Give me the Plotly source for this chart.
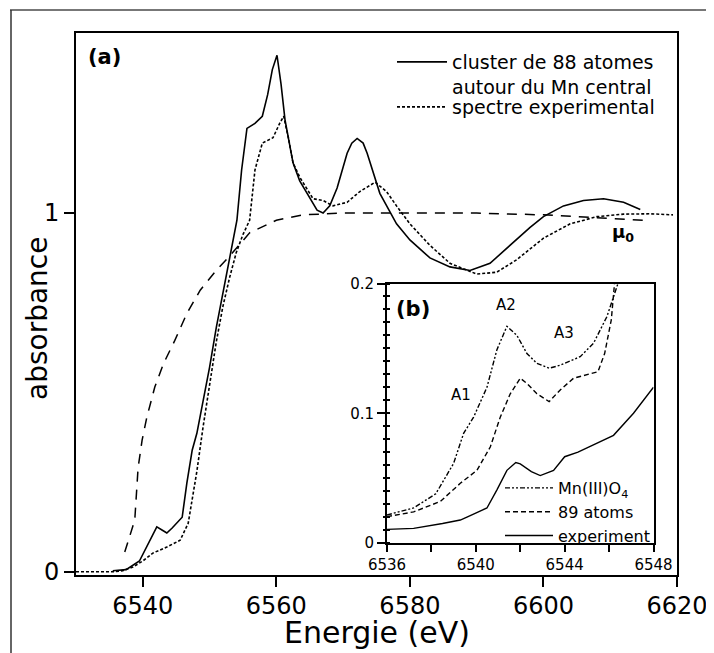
import plotly.graph_objects as go

# the page body has an 8px margin, so the figure starts 8px in and is cut by the 714x653 window
OFF = 8
W, H = 714 - OFF, 653 - OFF

# ---------------- main panel data (a) ----------------
cluster_E = [6535.5, 6537.5, 6539.5, 6540.6, 6541.5, 6542.1, 6543.0, 6543.6, 6544.4, 6545.1, 6545.9,
             6546.6, 6547.4, 6548.1, 6549.0, 6550.0, 6551.0, 6552.0, 6553.0, 6554.1, 6554.8, 6555.6,
             6556.8, 6557.9, 6558.7, 6559.4, 6560.1, 6560.7, 6561.3, 6562.5, 6563.5, 6564.6, 6566.1,
             6567.0, 6568.0, 6569.1, 6570.6, 6571.3, 6572.1, 6573.0, 6573.6, 6575.5, 6578.0, 6580.0,
             6583.0, 6586.0, 6589.0, 6592.0, 6595.0, 6598.0, 6600.0, 6603.0, 6606.0, 6609.0, 6612.0,
             6614.5]
cluster_A = [0.003, 0.006, 0.03, 0.069, 0.10, 0.125, 0.115, 0.108, 0.122, 0.135, 0.152,
             0.247, 0.339, 0.386, 0.47, 0.57, 0.68, 0.78, 0.88, 0.98, 1.12, 1.236,
             1.25, 1.27, 1.33, 1.40, 1.44, 1.36, 1.26, 1.14, 1.09, 1.055, 1.008,
             1.0, 1.02, 1.07, 1.167, 1.195, 1.208, 1.195, 1.167, 1.055, 0.97, 0.925,
             0.875, 0.85, 0.84, 0.86, 0.91, 0.96, 0.99, 1.02, 1.035, 1.04, 1.03,
             1.01]

exp_E = [6530.0, 6535.5, 6537.0, 6538.5, 6540.0, 6541.5, 6543.6, 6545.6, 6546.8, 6548.1, 6549.0,
         6550.0, 6551.0, 6552.0, 6553.0, 6554.0, 6555.0, 6556.0, 6556.8, 6557.9, 6559.5, 6560.5,
         6561.1, 6561.8, 6562.5, 6563.5, 6565.5, 6567.0, 6568.5, 6570.6, 6572.5, 6574.8, 6576.5,
         6578.0, 6580.0, 6583.0, 6586.0, 6590.0, 6593.0, 6596.0, 6600.0, 6604.0, 6608.0, 6612.0,
         6616.0, 6619.4]
exp_A = [0.0, 0.0, 0.003, 0.013, 0.03, 0.052, 0.069, 0.088, 0.135, 0.28, 0.40,
         0.52, 0.64, 0.74, 0.82, 0.89, 0.94, 0.98, 1.12, 1.195, 1.21, 1.25,
         1.27, 1.21, 1.14, 1.10, 1.04, 1.035, 1.02, 1.03, 1.06, 1.086, 1.06,
         1.02, 0.97, 0.91, 0.86, 0.83, 0.835, 0.87, 0.93, 0.97, 0.99, 0.997,
         0.998, 0.995]

mu0_E = [6537.3, 6538.8, 6539.3, 6539.9, 6540.6, 6541.8, 6543.1, 6544.8, 6546.6, 6548.6, 6551.0,
         6553.0, 6556.0, 6560.0, 6564.0, 6570.0, 6580.0, 6590.0, 6600.0, 6605.0, 6610.0, 6615.0]
mu0_A = [0.055, 0.144, 0.29, 0.367, 0.43, 0.515, 0.58, 0.645, 0.72, 0.785, 0.84,
         0.88, 0.945, 0.98, 0.995, 1.0, 1.0, 1.0, 0.995, 0.99, 0.985, 0.98]

main_xticks = [6540, 6560, 6580, 6600, 6620]
main_yticks = [0, 1]

# ---------------- inset data (b) ----------------
inset_exp_E = [6536.0, 6537.2, 6538.5, 6539.3, 6539.6, 6540.5, 6540.95, 6541.4, 6541.8, 6542.0,
               6542.5, 6542.9, 6543.5, 6544.0, 6544.6, 6545.3, 6546.2, 6547.1, 6548.0]
inset_exp_A = [0.0105, 0.0113, 0.015, 0.0177, 0.020, 0.027, 0.041, 0.056, 0.062, 0.061,
               0.055, 0.052, 0.056, 0.0665, 0.070, 0.0755, 0.083, 0.100, 0.120]

inset_89_E = [6536.0, 6537.2, 6538.4, 6539.3, 6540.05, 6540.65, 6541.1, 6541.55, 6542.0, 6542.3,
              6542.75, 6543.3, 6543.8, 6544.4, 6545.5, 6545.8, 6546.1, 6546.2, 6546.4]
inset_89_A = [0.0203, 0.024, 0.032, 0.046, 0.056, 0.074, 0.097, 0.115, 0.127, 0.123,
              0.115, 0.109, 0.118, 0.127, 0.132, 0.146, 0.172, 0.198, 0.23]

inset_mn_E = [6536.0, 6537.2, 6538.2, 6539.0, 6539.45, 6539.9, 6540.5, 6540.95, 6541.4, 6541.85,
              6542.3, 6542.75, 6543.3, 6543.8, 6544.7, 6545.3, 6545.9, 6546.4, 6546.6]
inset_mn_A = [0.0216, 0.027, 0.038, 0.0614, 0.0845, 0.097, 0.120, 0.149, 0.167, 0.160,
              0.146, 0.1385, 0.1347, 0.137, 0.1436, 0.154, 0.1744, 0.200, 0.22]

inset_xtick0, inset_xdtick = 6536, 4
inset_ytick0, inset_ydtick = 0, 0.1

FONT = "DejaVu Sans"


def fx(px):
    return (px - OFF) / W


def fy(py):
    return 1 - (py - OFF) / H


fig = go.Figure()

# main traces
fig.add_trace(go.Scatter(x=cluster_E, y=cluster_A, mode="lines",
                         name="cluster de 88 atomes<br>autour du Mn central",
                         line=dict(color="black", width=1.6), legend="legend", xaxis="x", yaxis="y"))
fig.add_trace(go.Scatter(x=exp_E, y=exp_A, mode="lines", name="spectre experimental",
                         line=dict(color="black", width=1.6, dash="3px,2px"), legend="legend3",
                         xaxis="x", yaxis="y"))
fig.add_trace(go.Scatter(x=mu0_E, y=mu0_A, mode="lines", name="mu0", showlegend=False,
                         line=dict(color="black", width=1.5, dash="10px,8px"), xaxis="x", yaxis="y"))

# inset traces
fig.add_trace(go.Scatter(x=inset_mn_E, y=inset_mn_A, mode="lines", name="Mn(III)O<sub>4</sub>",
                         line=dict(color="black", width=1.4, dash="5px,2px,2px,2px,2px,2px"),
                         legend="legend2", xaxis="x2", yaxis="y2"))
fig.add_trace(go.Scatter(x=inset_89_E, y=inset_89_A, mode="lines", name="89 atoms",
                         line=dict(color="black", width=1.4, dash="5px,3px"),
                         legend="legend2", xaxis="x2", yaxis="y2"))
fig.add_trace(go.Scatter(x=inset_exp_E, y=inset_exp_A, mode="lines", name="experiment",
                         line=dict(color="black", width=1.4),
                         legend="legend2", xaxis="x2", yaxis="y2"))
# invisible trace so that the crossing-tick overlay axis exists
fig.add_trace(go.Scatter(x=[inset_xtick0], y=[inset_ytick0], mode="lines", showlegend=False,
                         hoverinfo="skip", line=dict(width=0), xaxis="x2", yaxis="y3"))

axis_common = dict(showgrid=False, zeroline=False, showline=True, linecolor="black", linewidth=2,
                   mirror=True, ticks="outside", tickcolor="black", tickwidth=2, automargin=False)

fig.update_layout(
    template="none",
    width=W, height=H,
    margin=dict(l=0, r=0, t=0, b=0),
    paper_bgcolor="white", plot_bgcolor="rgba(0,0,0,0)",
    font=dict(family=FONT, color="black"),
    xaxis=dict(domain=[fx(76), fx(677)], range=[6530, 6620], tickvals=main_xticks, ticklen=10,
               ticklabelstandoff=-2,
               tickfont=dict(size=24, family=FONT), anchor="y", **axis_common),
    yaxis=dict(domain=[fy(575), fy(33)], range=[-0.009, 1.502], tickvals=main_yticks, ticklen=10,
               tickfont=dict(size=24, family=FONT), anchor="x", **axis_common),
    xaxis2=dict(domain=[fx(387), fx(653.5)], range=[6536, 6548], tickmode="linear",
                tick0=inset_xtick0, dtick=inset_xdtick, ticklen=7,
                tickfont=dict(size=15, family=FONT), anchor="y2",
                minor=dict(dtick=2, tick0=inset_xtick0, ticks="outside", ticklen=7, tickwidth=2,
                           tickcolor="black"),
                **axis_common),
    yaxis2=dict(domain=[fy(543), fy(283.5)], range=[0, 0.2], tickmode="linear",
                tick0=inset_ytick0, dtick=inset_ydtick, ticklen=8,
                tickfont=dict(size=15, family=FONT), anchor="x2", **axis_common),
    # short ticks crossing the inset's left axis every 0.01
    yaxis3=dict(domain=[fy(543), fy(283.5)], range=[0, 0.2], overlaying="y2", anchor="free",
                position=fx(390), side="left",
                showgrid=False, zeroline=False, showline=False, showticklabels=False,
                tickmode="linear", ticks="outside", ticklen=7, tickwidth=2, tickcolor="black",
                dtick=0.01, tick0=0, automargin=False),
    legend=dict(x=fx(392), y=fy(43), xanchor="left", yanchor="top", bgcolor="rgba(0,0,0,0)",
                font=dict(size=19, family=FONT), itemwidth=50, valign="top", tracegroupgap=0),
    legend3=dict(x=fx(392), y=fy(88), xanchor="left", yanchor="top", bgcolor="rgba(0,0,0,0)",
                 font=dict(size=19, family=FONT), itemwidth=50, tracegroupgap=0),
    legend2=dict(x=fx(500), y=fy(471), xanchor="left", yanchor="top", bgcolor="rgba(0,0,0,0)",
                 font=dict(size=16, family=FONT), itemwidth=48, tracegroupgap=0),
)

annotations = [
    dict(text="absorbance", x=fx(38), y=fy(319), textangle=-90, font=dict(size=28)),
    dict(text="Energie (eV)", x=fx(376.5), y=fy(632), font=dict(size=30)),
    dict(text="<b>(a)</b>", x=fx(104), y=fy(57), font=dict(size=21)),
    dict(text="<b>(b)</b>", x=fx(413), y=fy(309), font=dict(size=21)),
    dict(text="A1", x=fx(461), y=fy(395), font=dict(size=15)),
    dict(text="A2", x=fx(506), y=fy(305), font=dict(size=15)),
    dict(text="A3", x=fx(564), y=fy(333), font=dict(size=15)),
    dict(text="<b>µ<sub>0</sub></b>", x=fx(623), y=fy(233), font=dict(size=18)),
]
for a in annotations:
    a.update(xref="paper", yref="paper", showarrow=False, xanchor="center", yanchor="middle")
    a["font"]["family"] = FONT
    a["font"]["color"] = "black"
fig.update_layout(annotations=annotations)

# outer picture frame (top and left edges are visible in the reference)
fig.add_shape(type="line", xref="paper", yref="paper", x0=fx(10), x1=1, y0=fy(10), y1=fy(10),
              line=dict(color="#777777", width=2))
fig.add_shape(type="line", xref="paper", yref="paper", x0=fx(11), x1=fx(11), y0=fy(10), y1=0,
              line=dict(color="#333333", width=1.5))

fig.write_html("out.html")
